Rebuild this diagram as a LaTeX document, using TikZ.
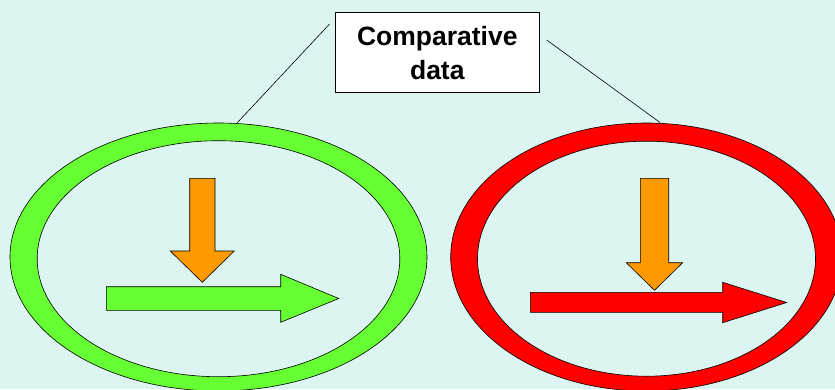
\documentclass[tikz,border=0pt]{standalone}
\usepackage{fontspec}
\setmainfont{Liberation Sans}
\usepackage{tikz}

\definecolor{bgcyan}{RGB}{221,245,241}
\definecolor{ringgreen}{RGB}{102,255,51}
\definecolor{ringred}{RGB}{255,0,0}
\definecolor{arroworange}{RGB}{255,153,0}

\tikzset{
  outline/.style={draw=black,line width=0.6pt},
  databox/.style={outline,fill=white,minimum width=204pt,minimum height=80pt,
    align=center,inner sep=0pt,font=\fontsize{26.5}{34}\selectfont\bfseries}
}

\begin{document}
\begin{tikzpicture}[x=1pt,y=-1pt]
      \begin{scope}
        \fill[bgcyan] (0,0) rectangle (835,389);
        \useasboundingbox (0,0) rectangle (835,389);

        % left ring and its arrows
        \draw[outline,fill=ringgreen,even odd rule]
             (218.5,257) ellipse[x radius=208.5,y radius=134]
             (218.5,258.7) ellipse[x radius=181.3,y radius=118];
        \coordinate (greentop) at (237.3,122.7);

        \draw[outline,fill=arroworange] (189.7,178.3) -- (215,178.3) -- (215,251)
             -- (234.3,251) -- (202.3,282.3) -- (170.3,251) -- (189.7,251) -- cycle;
        \draw[outline,fill=ringgreen] (106.3,286.7) -- (280.7,286.7) -- (280.7,274.3)
             -- (338.7,298.5) -- (280.7,322.3) -- (280.7,310.3) -- (106.3,310.3) -- cycle;

        % right ring and its arrows
        \draw[outline,fill=ringred,even odd rule]
             (646.5,257) ellipse[x radius=195.8,y radius=134]
             (646.5,258.7) ellipse[x radius=169,y radius=117.5];
        \coordinate (redtop) at (660.3,122.7);

        \draw[outline,fill=arroworange] (640.3,178.3) -- (668.7,178.3) -- (668.7,262.7)
             -- (682.7,262.7) -- (654.5,290.3) -- (626.3,262.7) -- (640.3,262.7) -- cycle;
        \draw[outline,fill=ringred] (530.3,292.3) -- (722.7,292.3) -- (722.7,282.3)
             -- (786.7,302.5) -- (722.7,322.7) -- (722.7,312.3) -- (530.3,312.3) -- cycle;

        % label and its two leader lines
        \node[databox] (data) at (437.3,52.7) {Comparative\\data};
        \coordinate (leftfoot) at (329.3,24.3);
        \coordinate (rightfoot) at (546.7,40);
        \draw[line width=0.6pt] (leftfoot) -- (greentop);
        \draw[line width=0.6pt] (rightfoot) -- (redtop);
      \end{scope}
\end{tikzpicture}
\end{document}
